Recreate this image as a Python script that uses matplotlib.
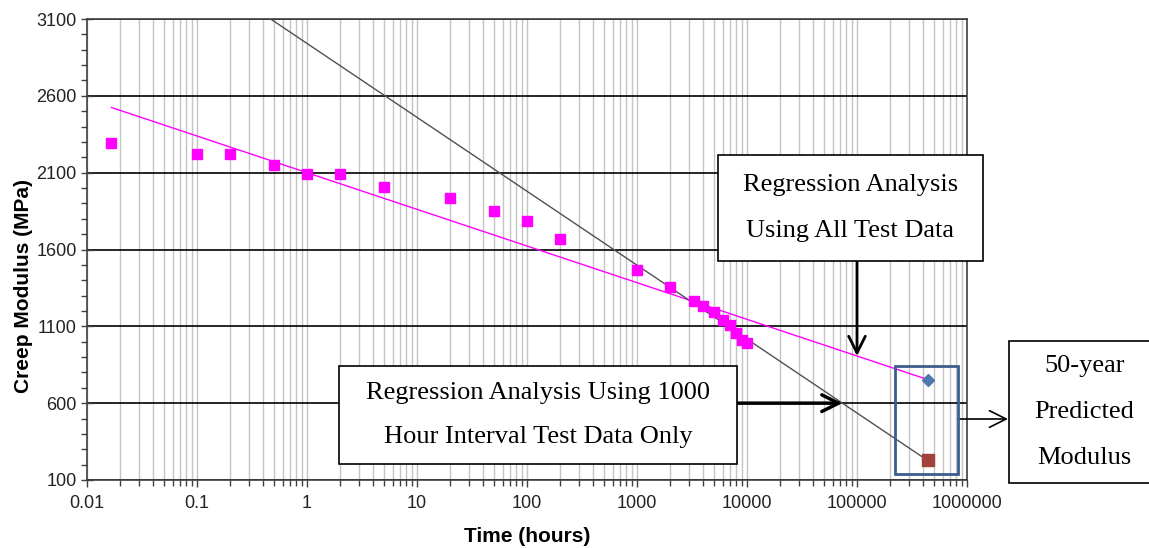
import matplotlib.pyplot as plt
import numpy as np
from matplotlib.patches import Rectangle, FancyArrowPatch
from matplotlib.ticker import FixedLocator, LogLocator, NullFormatter, MultipleLocator

# creep test data (hours, MPa)
time_h = [0.0167, 0.1, 0.2, 0.5, 1, 2, 5, 20, 50, 100, 200,
          1000, 2000, 3300, 4000, 5000, 6000, 7000, 8000, 9000, 10000]
modulus = [2290, 2222, 2222, 2150, 2091, 2091, 2007, 1935, 1850, 1785, 1668,
           1466, 1354, 1267, 1234, 1191, 1141, 1109, 1054, 1011, 993]

# regression lines E = a + b*log10(t)
all_fit = (2100, -238.6)
interval_fit = (2941, -481.0)

t50 = 438000  # 50 years in hours
pred_all = 750
pred_interval = 230

xticks = [0.01, 0.1, 1, 10, 100, 1000, 10000, 100000, 1000000]
xlabels = ['0.01', '0.1', '1', '10', '100', '1000', '10000', '100000', '1000000']
yticks = [100, 600, 1100, 1600, 2100, 2600, 3100]

W, H = 1149, 548


def fp(x, y):
    # figure pixel (from top-left) -> figure fraction
    return x / W, 1 - y / H


fig = plt.figure(figsize=(W / 100, H / 100), dpi=100)
ax = fig.add_axes([87 / W, 1 - 480 / H, 880 / W, 461 / H])

ax.set_xscale('log')
ax.set_xlim(0.01, 1000000)
ax.set_ylim(100, 3100)

ax.xaxis.set_major_locator(FixedLocator(xticks))
ax.set_xticklabels(xlabels)
ax.xaxis.set_minor_locator(LogLocator(base=10, subs=np.arange(2, 10)))
ax.xaxis.set_minor_formatter(NullFormatter())
ax.set_yticks(yticks)
ax.yaxis.set_minor_locator(MultipleLocator(100))

ax.grid(True, axis='x', which='both', color='#c4c4c4', lw=1.0, zorder=0)
ax.grid(True, axis='y', which='major', color='black', lw=1.2, zorder=0)
ax.set_axisbelow(True)

for s in ax.spines.values():
    s.set_color('#404040')
    s.set_linewidth(1.2)

ax.tick_params(axis='both', which='major', length=5, width=1,
               color='#404040', labelsize=13, labelcolor='#222222')
ax.tick_params(axis='y', which='major', direction='inout', length=9, pad=3)
ax.tick_params(axis='x', which='major', direction='out', pad=6)
ax.tick_params(axis='both', which='minor', direction='out', length=4, width=1, color='#404040')

for lab in ax.get_xticklabels() + ax.get_yticklabels():
    lab.set_family('Liberation Sans')

# regression lines
ta = np.array([0.0167, t50])
ax.plot(ta, all_fit[0] + all_fit[1] * np.log10(ta), color='#ff00ff', lw=1, zorder=2)
ti = np.array([0.3, t50])
ax.plot(ti, interval_fit[0] + interval_fit[1] * np.log10(ti), color='#505050', lw=1, zorder=2)

ax.plot(time_h, modulus, 's', color='#ff00ff', ms=7, zorder=3)
ax.plot([t50], [pred_all], 'D', color='#4f77b0', ms=6, zorder=4)
ax.plot([t50], [pred_interval], 's', color='#a0413c', ms=9, zorder=4)

ax.set_xlabel('Time (hours)', fontsize=15, fontweight='bold', family='Liberation Sans')
ax.xaxis.set_label_coords(0.5, (480 - 527) / 461)
ax.set_ylabel('Creep Modulus (MPa)', fontsize=15, fontweight='bold', family='Liberation Sans')
ax.yaxis.set_label_coords((33 - 87) / 880, (480 - 286) / 461)

# annotation boxes
serif = 'Liberation Serif'


def box(x0, y0, x1, y1, lines, ls=45):
    (fx0, fy1) = fp(x0, y1)
    (fx1, fy0) = fp(x1, y0)
    fig.patches.append(Rectangle((fx0, fy1), fx1 - fx0, fy0 - fy1, transform=fig.transFigure,
                                 facecolor='white', edgecolor='black', lw=1.2, zorder=5))
    n = len(lines)
    cx = (x0 + x1) / 2
    cy = (y0 + y1) / 2
    for i, t in enumerate(lines):
        yy = cy + (i - (n - 1) / 2) * ls
        fig.text(*fp(cx, yy), t, ha='center', va='center', family=serif, fontsize=19, zorder=6)


box(718, 155, 983, 261, ['Regression Analysis', 'Using All Test Data'])
box(339, 366, 737, 464, ['Regression Analysis Using 1000', 'Hour Interval Test Data Only'])
box(1009, 341, 1160, 483, ['50-year', 'Predicted', 'Modulus'], ls=46)

# arrows
tip1 = (100000, all_fit[0] + all_fit[1] * 5)
ax.annotate('', xy=tip1, xycoords='data', xytext=(100000, 1 - 261 / H),
            textcoords=('data', 'figure fraction'),
            arrowprops=dict(arrowstyle='->', color='black', lw=2, mutation_scale=30,
                            shrinkA=0, shrinkB=0), zorder=6)
t600 = 10 ** ((interval_fit[0] - 600) / -interval_fit[1])
ax.annotate('', xy=(t600, 600), xycoords='data', xytext=(737 / W, 600),
            textcoords=('figure fraction', 'data'),
            arrowprops=dict(arrowstyle='->', color='black', lw=2.5, mutation_scale=30,
                            shrinkA=0, shrinkB=0), zorder=6)

fx0, fy1 = fp(895, 474)
fx1, fy0 = fp(958, 366)
fig.patches.append(Rectangle((fx0, fy1), fx1 - fx0, fy0 - fy1, transform=fig.transFigure,
                             facecolor='none', edgecolor='#3b5e8c', lw=2, zorder=5))
fig.add_artist(FancyArrowPatch(fp(958, 419), fp(1008, 419), transform=fig.transFigure,
                               arrowstyle='->', mutation_scale=30,
                               color='black', lw=1.2, shrinkA=0, shrinkB=0))

fig.savefig('out.png', dpi=100)
